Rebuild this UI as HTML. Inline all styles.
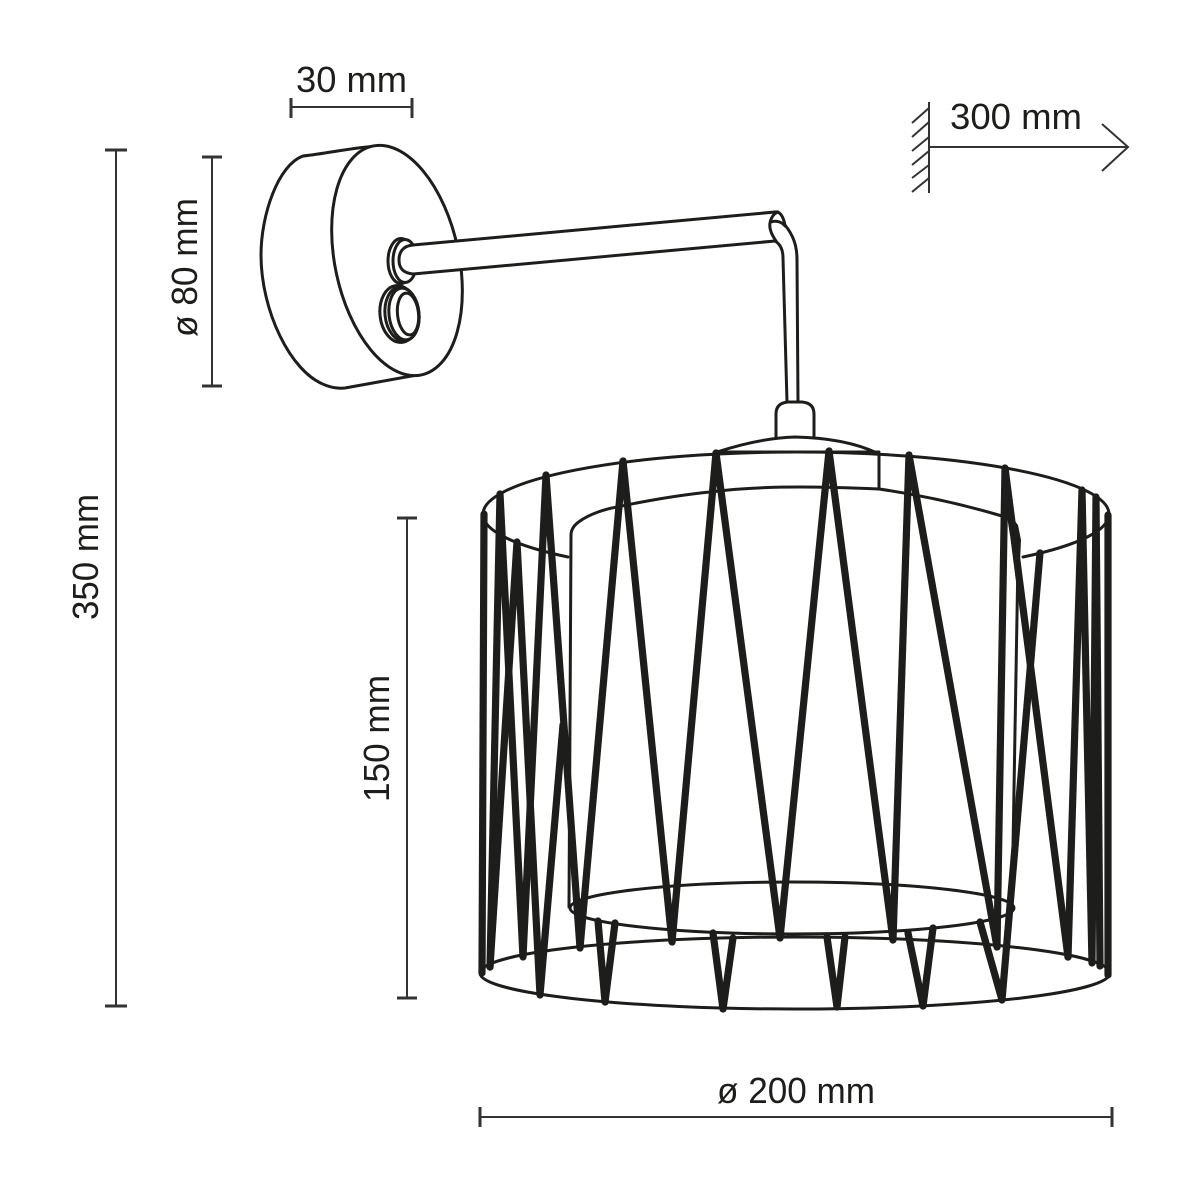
<!DOCTYPE html>
<html><head><meta charset="utf-8"><style>
html,body{margin:0;padding:0;background:#fff}
svg{display:block}
text{font-family:"Liberation Sans",sans-serif;font-size:36px;fill:#1d1d1b}
</style></head><body>
<svg width="1200" height="1200" viewBox="0 0 1200 1200" xmlns="http://www.w3.org/2000/svg">
<rect width="1200" height="1200" fill="#fff"/>
<!-- dimensions -->
<g stroke="#333" stroke-width="2" fill="none">
<path d="M116,150V1006M212,157V386M291,107H412M407,518V998M480,1117H1112M929,147H1128M1102,124L1128,147L1102,171"/>
<path d="M929,102V193M912,123L929,108M912,137L929,122M912,151L929,137M912,165L929,151M912,178L929,165M912,192L929,178"/>
</g>
<g stroke="#333" stroke-width="3" fill="none">
<path d="M105,150H127M105,1006H127M202,157H222M202,386H222M291,98V118M412,98V118M397,518H417M397,998H417M480,1107V1127M1112,1107V1127"/>
</g>
<text x="296" y="92" textLength="111" lengthAdjust="spacingAndGlyphs">30 mm</text>
<text x="950" y="129" textLength="132" lengthAdjust="spacingAndGlyphs">300 mm</text>
<text x="717" y="1103" textLength="158" lengthAdjust="spacingAndGlyphs">ø 200 mm</text>
<text transform="translate(98,620) rotate(-90)" textLength="126" lengthAdjust="spacingAndGlyphs">350 mm</text>
<text transform="translate(389,802) rotate(-90)" textLength="127" lengthAdjust="spacingAndGlyphs">150 mm</text>
<text transform="translate(197,337) rotate(-90)" textLength="139" lengthAdjust="spacingAndGlyphs">ø 80 mm</text>
<!-- wall plate -->
<g stroke="#1d1d1b" stroke-width="3" fill="none" stroke-linecap="round">
<path d="M380,146C355,147 330,153 303,156C278,165 261,215 261,255C261,310 290,372 325,385Q335,389 345,388L417,375"/>
<ellipse cx="397" cy="260.5" rx="62" ry="117" transform="rotate(-12 397 260.5)" fill="#fff"/>
<ellipse cx="401" cy="261" rx="13" ry="22.5" fill="#fff"/>
<ellipse cx="405" cy="261" rx="12" ry="21.5" fill="#fff"/>
<path d="M413,245C402,246 399,253 399,260C399,268 403,273 413,274L775,241L778,212Z" fill="#fff" stroke="none"/>
<path d="M775,212L413,245C402,246 399,253 399,260C399,268 403,273 413,274L775,241"/>
<ellipse cx="399" cy="314" rx="19" ry="28.5" transform="rotate(-6 399 314)" fill="#fff"/>
<ellipse cx="402" cy="314" rx="17" ry="27" transform="rotate(-6 402 314)" fill="#fff"/>
<ellipse cx="404" cy="314" rx="15" ry="26" transform="rotate(-6 404 314)" fill="#fff"/>
<ellipse cx="408" cy="314" rx="10.5" ry="21" transform="rotate(-6 408 314)" fill="#fff"/>
<!-- elbow and drop rod -->
<path d="M775,212Q782,211 785,225C793,235 797,245 797,260L798,402"/>
<path d="M775,241C780,244 783,250 783,258L787,402"/>
<path d="M778,212C772,214 769,222 770,228C771,234 774,238 776,241"/>
<path d="M771,222C776,220 782,222 785,226"/>
<!-- finial + dome -->
<path d="M776,438L776,414Q776,403 788,402L802,402Q814,403 814,414L814,438"/>
<path d="M717,452Q760,438 795,437Q845,438 877,453"/>
<path d="M716,452H879M879,454V489"/>
<!-- inner shade -->
<path d="M569,907L571,535Q571,527 580,521C590,514 605,509 617,507C650,500 680,495 710,492C740,488 770,487 800,487C830,487 855,488 879,489C920,495 965,505 1002,516"/>
<path d="M1018,558L1012,905"/>
<ellipse cx="792" cy="908" rx="222" ry="26"/>
<!-- rings -->
<path d="M483,514A313,62 0 0 1 1109,514"/>
<path d="M483,514A313,62 0 0 0 568,557"/>
<path d="M1023,557A313,62 0 0 0 1109,514"/>
<ellipse cx="795" cy="973" rx="315" ry="36"/>
</g>
<path d="M1006,510L1018,525L1021,540L1020,562L1010,535Z" fill="#1d1d1b"/>
<!-- wires -->
<g stroke="#1d1d1b" stroke-width="7.2" fill="none" stroke-linejoin="round" stroke-linecap="round">
<path d="M484,514L482,973"/>
<path d="M490,967L500,494L523,957L546,475L580,948L623,461L672,942L716,453L780,938L829,451L893,940L909,455L997,947L1005,468L1068,957"/>
<path d="M490,967L517,542L540,995L563,725"/>
<path d="M1068,957L1082,490L1092,963L1096,497L1100,966"/>
<path d="M1108,515L1108,975"/>
<path d="M1040,553L1002,1000L980,922"/>
<path d="M598,921L605,1002L615,923"/>
<path d="M713,933L723,1009L733,938"/>
<path d="M827,937L837,1007L845,937"/>
<path d="M908,933L923,1006L933,928"/>
</g>
</svg>
</body></html>
